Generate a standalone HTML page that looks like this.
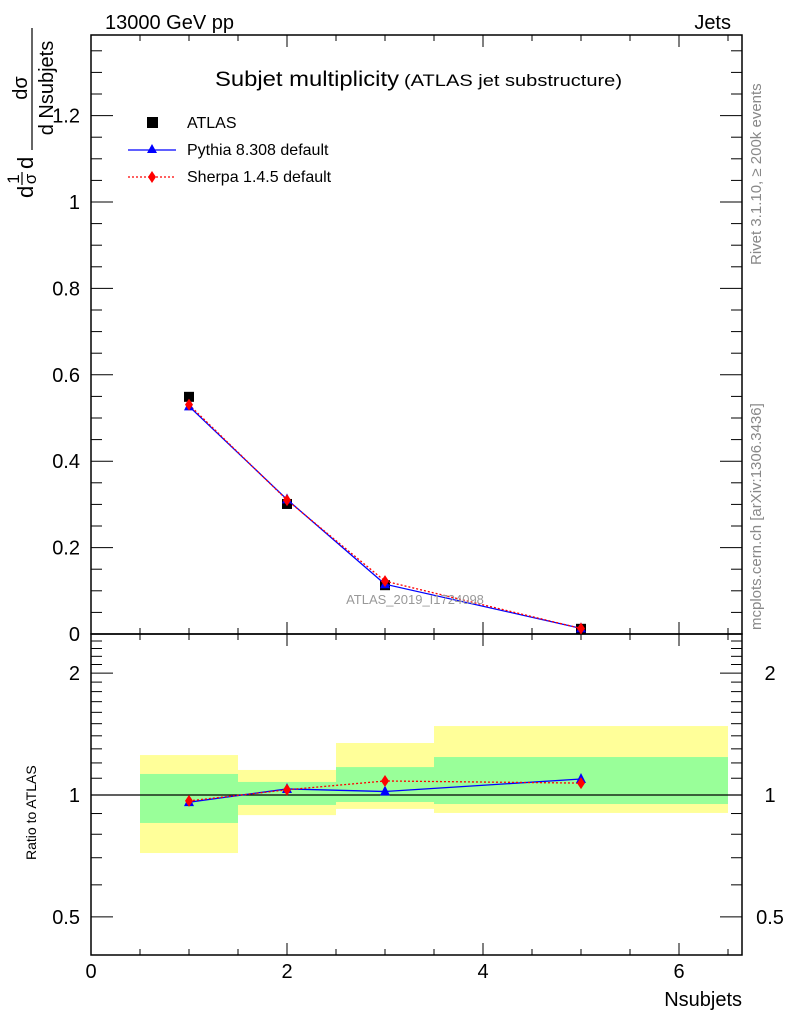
<!DOCTYPE html>
<html><head><meta charset="utf-8"><style>
body{margin:0;background:#fff;}
svg{font-family:"Liberation Sans",sans-serif;display:block}
</style></head><body>
<svg id="c" width="786" height="1024" viewBox="0 0 786 1024">
<rect width="786" height="1024" fill="#fff"/>
<g id="bands"></g>
<g id="axes"></g>
<g id="marks"></g>
<text x="105" y="29" font-size="20">13000 GeV pp</text>
<text x="731" y="29" font-size="20" text-anchor="end">Jets</text>
<text x="215" y="86" font-size="21" textLength="184" lengthAdjust="spacingAndGlyphs">Subjet multiplicity</text>
<text x="404" y="86" font-size="17" textLength="218" lengthAdjust="spacingAndGlyphs">(ATLAS jet substructure)</text>
<text x="415" y="604" font-size="13" fill="#999" text-anchor="middle">ATLAS_2019_I1724098</text>
<text transform="translate(761,265) rotate(-90)" font-size="15" fill="#888">Rivet 3.1.10, ≥ 200k events</text>
<text transform="translate(761,630) rotate(-90)" font-size="15" fill="#888">mcplots.cern.ch [arXiv:1306.3436]</text>
<text transform="translate(36,860) rotate(-90)" font-size="14">Ratio to ATLAS</text>
<text x="742" y="1006" font-size="20" text-anchor="end">Nsubjets</text>
<g transform="translate(0,200) rotate(-90)">
<text x="2" y="33" font-size="22">d</text>
<text x="21" y="19" font-size="17" text-anchor="middle">1</text>
<line x1="15" y1="22" x2="28" y2="22" stroke="#000" stroke-width="1.2"/>
<text x="21" y="36" font-size="17" text-anchor="middle">σ</text>
<text x="31" y="33" font-size="22">d</text>
<text x="112" y="27" font-size="20" text-anchor="middle">dσ</text>
<line x1="50" y1="32" x2="172" y2="32" stroke="#000" stroke-width="1.2"/>
<text x="112" y="53" font-size="20" text-anchor="middle">d Nsubjets</text>
</g>
<g font-size="16">
<rect x="147" y="117" width="11" height="11" fill="#000"/>
<text x="187" y="128">ATLAS</text>
<line x1="128" y1="150" x2="176" y2="150" stroke="#00f" stroke-width="1.3"/>
<path d="M152 144 L157 153 L147 153Z" fill="#00f"/>
<text x="187" y="155">Pythia 8.308 default</text>
<line x1="128" y1="177" x2="176" y2="177" stroke="#f00" stroke-width="1.3" stroke-dasharray="2,2"/>
<path d="M152 171 L156 177 L152 183 L148 177Z" fill="#f00"/>
<text x="187" y="182">Sherpa 1.4.5 default</text>
</g>
</svg>
<script>
const xs=[1,2,3,5];
const atlas=[0.549,0.301,0.113,0.012];
const pythiaRatio=[0.96,1.035,1.02,1.095];
const sherpaRatio=[0.967,1.03,1.083,1.07];
const binEdges=[[0.5,1.5],[1.5,2.5],[2.5,3.5],[3.5,6.5]];
const yellowLo=[0.719,0.892,0.924,0.903];
const yellowHi=[1.255,1.153,1.344,1.480];
const greenLo=[0.853,0.945,0.961,0.950];
const greenHi=[1.127,1.077,1.172,1.241];
const NS='http://www.w3.org/2000/svg';
const X=v=>91+v*98;
const Y=v=>634-v*432;
const R=v=>795-Math.log10(v)*405;
function mk(p,t,a){const e=document.createElementNS(NS,t);for(const k in a)e.setAttribute(k,a[k]);p.appendChild(e);return e;}
const bands=document.getElementById('bands'),axes=document.getElementById('axes'),marks=document.getElementById('marks');
binEdges.forEach((b,i)=>{
 const y=mk(bands,'rect',{x:X(b[0]),y:R(yellowHi[i]),width:X(b[1])-X(b[0]),height:R(yellowLo[i])-R(yellowHi[i]),fill:'#ffff99'});
 
 
 const g=mk(bands,'rect',{x:X(b[0]),y:R(greenHi[i]),width:X(b[1])-X(b[0]),height:R(greenLo[i])-R(greenHi[i]),fill:'#99ff99'});
 
 
});
mk(axes,'rect',{x:91,y:35,width:651,height:599,fill:'none',stroke:'#000','stroke-width':1.5});
mk(axes,'rect',{x:91,y:634,width:651,height:321,fill:'none',stroke:'#000','stroke-width':1.5});
mk(axes,'line',{x1:91,y1:795,x2:742,y2:795,stroke:'#000','stroke-width':1.3});
for(let v=0;v<=6.5;v+=0.5){const maj=v%2===0,len=maj?12:6;
 [35,634].forEach(y0=>{mk(axes,'line',{x1:X(v),y1:y0,x2:X(v),y2:y0+len,stroke:'#000'});});
 [634,955].forEach(y0=>{mk(axes,'line',{x1:X(v),y1:y0,x2:X(v),y2:y0-len,stroke:'#000'});});
 if(maj){const t=mk(axes,'text',{x:X(v),y:978,'font-size':20,'text-anchor':'middle'});t.textContent=v;
  
  }
}
for(let i=0;i<=27;i++){const v=i*0.05,maj=i%4===0,len=maj?22:11;
 mk(axes,'line',{x1:91,y1:Y(v),x2:91+len,y2:Y(v),stroke:'#000'});
 mk(axes,'line',{x1:742,y1:Y(v),x2:742-len,y2:Y(v),stroke:'#000'});
 if(maj){const t=mk(axes,'text',{x:80,y:Y(v)+7,'font-size':20,'text-anchor':'end'});t.textContent=+v.toFixed(1);
  
  }
}
[0.5,0.6,0.7,0.8,0.9,1,1.1,1.2,1.3,1.4,1.5,1.6,1.7,1.8,1.9,2,2.1,2.2,2.3,2.4].forEach(v=>{
 const maj=(v===0.5||v===1||v===2),len=maj?22:11;
 mk(axes,'line',{x1:91,y1:R(v),x2:91+len,y2:R(v),stroke:'#000'});
 mk(axes,'line',{x1:742,y1:R(v),x2:742-len,y2:R(v),stroke:'#000'});
 if(maj){[80,770].forEach((x,j)=>{const t=mk(axes,'text',{x:x,y:R(v)+7,'font-size':20,'text-anchor':j?'middle':'end'});t.textContent=v;
  
  });}
});
const pyth=atlas.map((a,i)=>a*pythiaRatio[i]),sher=atlas.map((a,i)=>a*sherpaRatio[i]);
function line(vals,fy,col,dash,name){const p=mk(marks,'polyline',{points:xs.map((x,i)=>X(x)+','+fy(vals[i])).join(' '),fill:'none',stroke:col,'stroke-width':1.3,'stroke-dasharray':dash});
 
 }
function tri(x,y){const p=mk(marks,'path',{d:`M${x} ${y-6}L${x+5} ${y+4}L${x-5} ${y+4}Z`,fill:'#00f'});
 
 }
function dia(x,y){const p=mk(marks,'path',{d:`M${x} ${y-6}L${x+4} ${y}L${x} ${y+6}L${x-4} ${y}Z`,fill:'#f00'});
 
 }
atlas.forEach((a,i)=>{const r=mk(marks,'rect',{x:X(xs[i])-5,y:Y(a)-5,width:10,height:10,fill:'#000'});
 
 });
line(pyth,Y,'#00f','none','pythia-line');
line(sher,Y,'#f00','2,2','sherpa-line');
xs.forEach((x,i)=>{tri(X(x),Y(pyth[i]));dia(X(x),Y(sher[i]));});
line(pythiaRatio,R,'#00f','none','pythia-ratio-line');
line(sherpaRatio,R,'#f00','2,2','sherpa-ratio-line');
xs.forEach((x,i)=>{tri(X(x),R(pythiaRatio[i]));dia(X(x),R(sherpaRatio[i]));});
</script>
</body></html>
